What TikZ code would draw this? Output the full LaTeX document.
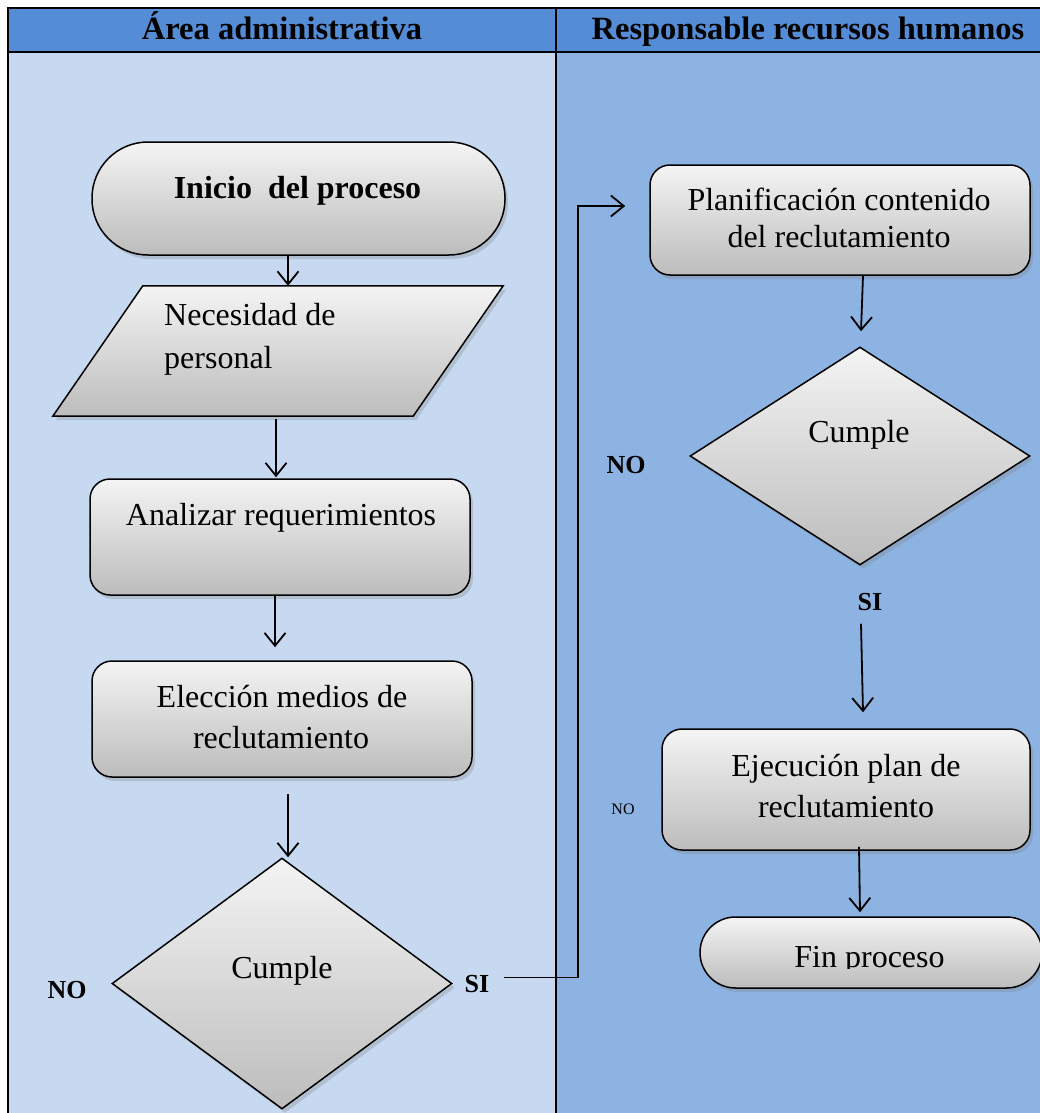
\documentclass[tikz,border=0pt]{standalone}
\usepackage{fontspec}
\setmainfont{Liberation Serif}
\usetikzlibrary{shapes.geometric,shadows,arrows.meta}

\definecolor{headblue}{RGB}{84,141,213}
\definecolor{laneA}{RGB}{198,217,241}
\definecolor{laneB}{RGB}{141,179,226}
\definecolor{boxtop}{RGB}{244,244,244}
\definecolor{boxbot}{RGB}{188,188,188}

\newcommand{\flowfont}{\fontsize{32pt}{38pt}\selectfont}
\newcommand{\headfont}{\fontsize{32.5pt}{36pt}\selectfont\bfseries}
\newcommand{\tagfont}{\fontsize{26pt}{30pt}\selectfont\bfseries}

\tikzset{
  shadebox/.style={draw=black, line width=1.5pt, top color=boxtop, bottom color=boxbot,
    inner sep=0pt, drop shadow={opacity=0.3, shadow xshift=3pt, shadow yshift=-4pt}},
  procbox/.style={shadebox, rectangle, rounded corners=20pt},
  termbox/.style={shadebox, rectangle},
  decbox/.style={shadebox, diamond},
  anchorbox/.style={rectangle, inner sep=0pt},
  flowtext/.style={anchor=base, inner sep=0pt, font=\flowfont},
  headtext/.style={anchor=base, inner sep=0pt, font=\headfont},
  tagtext/.style={anchor=base, inner sep=0pt, font=\tagfont},
  flowarrow/.style={draw=black, line width=1.8pt, -{Straight Barb[length=13pt,width=21pt]}},
  rule/.style={draw=black, line width=2.2pt}
}

\begin{document}
\begin{tikzpicture}[x=1pt, y=-1pt]
  \useasboundingbox (0,0) rectangle (1040,1113);
  \fill[white] (0,0) rectangle (1040,1113);

  % swimlanes
  \fill[laneA] (8,52) rectangle (556,1113);
  \fill[laneB] (556,52) rectangle (1040,1113);
  \fill[headblue] (8,8) rectangle (1040,52);
  \draw[rule] (8,1113) -- (8,8) -- (1040,8);
  \draw[rule] (8,52) -- (1040,52);
  \draw[rule] (556,8) -- (556,1113);

  \node[headtext] (laneAtitle) at (282,40) {Área administrativa};
  \node[headtext] (laneBtitle) at (808,40) {Responsable recursos humanos};

  % left lane shapes
  \node[termbox, rounded corners=56pt, minimum width=413pt, minimum height=113pt] (ini) at (298.5,198.5) {};
  \node[flowtext, font=\flowfont\bfseries] (iniT) at (297.5,198) {Inicio~~del proceso};

  % input/output parallelogram: the node carries the anchors, the path draws the slanted outline
  \node[anchorbox, minimum width=360pt, minimum height=130pt] (nec) at (278,351) {};
  \path[shadebox] ([xshift=45pt]nec.north west) -- ([xshift=45pt]nec.north east)
    -- ([xshift=-45pt]nec.south east) -- ([xshift=-45pt]nec.south west) -- cycle;
  \node[flowtext, anchor=base west] (necT1) at (164,325) {Necesidad de};
  \node[flowtext, anchor=base west] (necT2) at (164,368) {personal};

  \node[procbox, minimum width=380pt, minimum height=116pt] (an) at (280,537) {};
  \node[flowtext] (anT) at (281,525) {Analizar requerimientos};

  \node[procbox, minimum width=380pt, minimum height=116pt] (el) at (282,719) {};
  \node[flowtext] (elT1) at (282,707) {Elección medios de};
  \node[flowtext] (elT2) at (281,748) {reclutamiento};

  \node[decbox, minimum width=340pt, minimum height=251pt] (d1) at (282,983.5) {};
  \node[flowtext] (d1T) at (282,978) {Cumple};
  \node[tagtext] (no1) at (67,998) {NO};
  \node[tagtext] (si1) at (477,992) {SI};

  % right lane shapes
  \node[procbox, minimum width=380pt, minimum height=110pt] (pl) at (840,220) {};
  \node[flowtext] (plT1) at (839,210) {Planificación contenido};
  \node[flowtext] (plT2) at (839,247) {del reclutamiento};

  \node[decbox, minimum width=340pt, minimum height=218pt] (d2) at (860,456) {};
  \node[flowtext] (d2T) at (859,442) {Cumple};
  \node[tagtext] (no2) at (626,473) {NO};
  \node[tagtext] (si2) at (870,610) {SI};

  \node[procbox, minimum width=368pt, minimum height=121pt] (ej) at (846,789.5) {};
  \node[flowtext] (ejT1) at (846,776) {Ejecución plan de};
  \node[flowtext] (ejT2) at (846,817) {reclutamiento};
  \node[anchor=base, inner sep=0pt, font=\fontsize{16pt}{18pt}\selectfont] (no3) at (623,814) {NO};

  \node[termbox, rounded corners=35.5pt, minimum width=342pt, minimum height=71pt] (fin) at (871,952.5) {};
  \begin{scope}
    \clip (700,920) rectangle (1040,968);
    \node[flowtext] (finT) at (869.5,967) {Fin proceso};
  \end{scope}

  % connectors
  \draw[flowarrow] ([xshift=-10.5pt]ini.south) -- ([xshift=10pt]nec.north);
  \draw[flowarrow] ([xshift=-2pt,yshift=-3pt]nec.south) -- ([xshift=-4pt,yshift=1pt]an.north);
  \draw[flowarrow] ([xshift=-5pt]an.south) -- ([xshift=-7pt,yshift=13pt]el.north);
  \draw[flowarrow] ([xshift=6pt,yshift=-16pt]el.south) -- ([xshift=6pt]d1.north);
  \coordinate (bend) at (578,977.5);
  \draw[flowarrow] ([xshift=51pt,yshift=6pt]d1.east) -- (bend) |- ([xshift=-24pt,yshift=14pt]pl.west);
  \draw[flowarrow] ([xshift=23pt]pl.south) -- ([xshift=1pt,yshift=15pt]d2.north);
  \draw[flowarrow] ([xshift=1pt,yshift=-58pt]d2.south) -- ([xshift=17pt,yshift=16pt]ej.north);
  \draw[flowarrow] ([xshift=13pt,yshift=4pt]ej.south) -- ([xshift=-11pt,yshift=4pt]fin.north);
\end{tikzpicture}
\end{document}
